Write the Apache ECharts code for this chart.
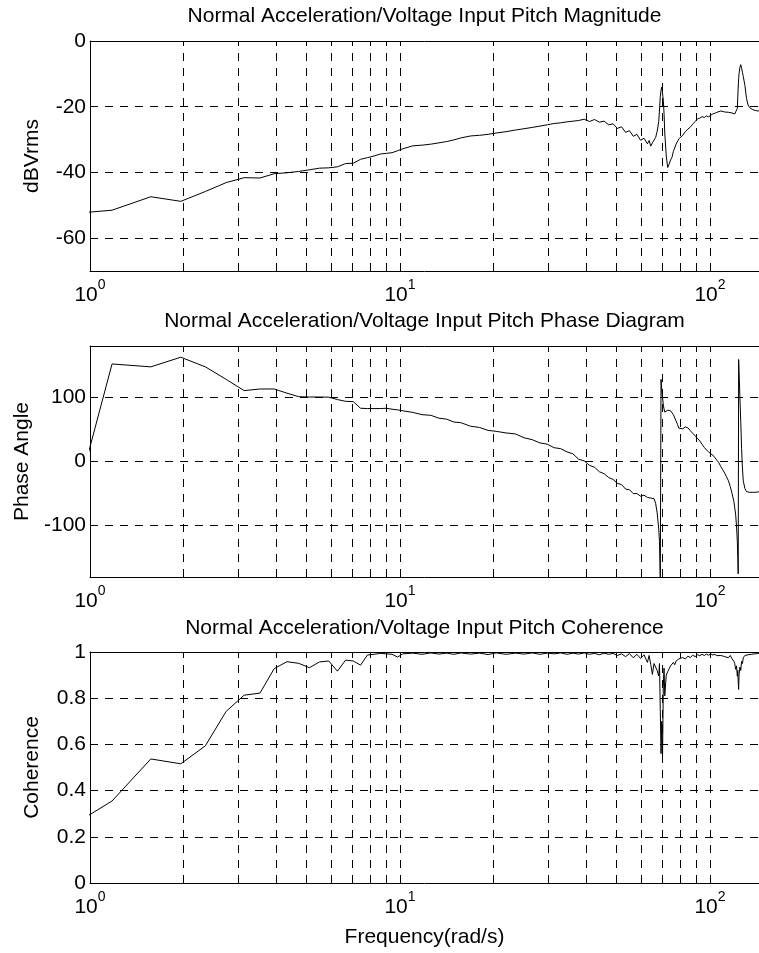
<!DOCTYPE html>
<html><head><meta charset="utf-8">
<script src="https://cdn.jsdelivr.net/npm/echarts@6/dist/echarts.min.js"></script>
<style>html,body{margin:0;padding:0;background:#fff}#c{width:759px;height:953px}</style>
</head><body><div id="c"></div>
<script>
// ---------- data ----------
const freq = [
0.785, 1.178, 1.571, 1.963, 2.356, 2.749, 3.142, 3.534, 3.927, 4.320,
4.712, 5.105, 5.498, 5.890, 6.283, 6.676, 7.069, 7.461, 7.854, 8.247,
8.639, 9.032, 9.425, 9.817, 10.21, 11.00, 11.78, 12.57, 13.35, 14.14,
14.92, 15.71, 16.89, 18.06, 19.24, 20.42, 21.99, 23.56, 25.13, 26.70,
28.27, 29.85, 31.42, 32.99, 34.56, 36.13, 37.70, 39.27, 40.84, 42.41,
43.98, 45.55, 47.12, 48.69, 50.27, 51.84, 53.41, 54.98, 56.55, 58.12,
59.69, 61.26, 62.83, 63.62, 64.40, 65.19, 65.97, 66.76, 67.54, 68.33,
68.72, 69.12, 69.51, 69.90, 70.29, 70.69, 71.08, 71.47, 72.26, 73.04,
73.83, 74.61, 75.40, 76.18, 76.97, 77.75, 78.54, 79.33, 80.11, 81.68,
83.25, 84.82, 86.39, 87.96, 89.54, 91.11, 92.68, 94.25, 95.82, 97.39,
98.96, 100.53, 102.10, 103.67, 105.24, 106.81, 108.38, 109.96, 111.53, 113.10,
114.67, 116.24, 117.81, 119.38, 120.17, 120.95, 121.74, 122.52, 122.91, 123.31,
123.70, 124.09, 124.88, 125.66, 126.45, 127.23, 128.02, 129.59, 131.16, 132.73,
134.30, 135.87, 137.44, 139.02, 140.59, 142.16, 143.73, 145.30
];
const magnitude = [
-52.9, -51.5, -47.4, -48.8, -45.8, -43.1, -41.6, -41.7, -40.4, -40.1,
-39.7, -39.2, -38.7, -38.6, -38.3, -37.3, -37.2, -36.0, -35.5, -35.0,
-34.4, -34.2, -34.0, -33.4, -32.8, -31.9, -31.7, -31.4, -31.0, -30.6,
-30.1, -29.5, -28.9, -28.7, -28.4, -28.0, -27.6, -27.1, -26.7, -26.3,
-25.9, -25.5, -25.1, -24.9, -24.6, -24.4, -24.2, -23.8, -24.5, -23.9,
-24.7, -24.4, -25.5, -25.2, -26.6, -26.1, -27.8, -27.3, -29.0, -28.4,
-30.2, -29.6, -31.3, -30.3, -32.0, -31.0, -30.4, -29.4, -27.5, -24.5,
-21.0, -17.0, -15.0, -14.0, -14.2, -18.0, -22.0, -28.0, -35.0, -38.5,
-37.5, -36.2, -35.4, -33.6, -33.0, -31.4, -31.9, -29.8, -29.6, -28.7,
-27.6, -26.8, -26.2, -25.3, -24.5, -23.7, -23.5, -23.0, -23.3, -22.8,
-23.1, -22.6, -22.2, -22.0, -21.7, -21.9, -21.3, -21.2, -21.6, -21.1,
-21.7, -21.2, -21.9, -21.4, -22.2, -22.6, -22.1, -20.5, -17.0, -14.0,
-11.5, -10.0, -8.0, -7.2, -8.3, -9.5, -10.8, -13.5, -17.5, -19.5,
-20.3, -20.6, -20.9, -21.0, -21.2, -21.0, -21.3, -21.4
];
const phase = [
-168, 152, 147.5, 162.5, 147.5, 128, 110.5, 113, 113, 106.5,
101, 100.5, 100.5, 100.3, 96.5, 93.8, 93.3, 83, 82.5, 82.5,
82.5, 83, 81.5, 80.5, 79, 76.5, 73, 72, 67.5, 66,
61.5, 60.5, 55, 53, 48.5, 47, 44.5, 43, 37, 34,
29, 27, 21.5, 20, 15, 12, 3.5, 1, -6, -9,
-16, -19, -25, -28, -34, -36, -43, -44, -50, -50,
-54, -52.5, -56, -53, -57, -56, -58, -65, -80, -105,
-125, -185, 128, 110, 100, 88, 82, 77, 76, 80,
82, 79, 81, 73, 70, 63, 58, 52, 50, 51,
54, 52.5, 48, 44, 40, 36, 32, 27, 22, 18,
15, 12, 10, 6, 2, -2, -8, -13, -18, -24,
-30, -39, -50, -62, -72, -82, -100, -125, -150, -175,
159, 140, 100, 62, 20, -10, -30, -42, -47, -46,
-48, -46, -48, -46, -48, -45, -47, -46
];
const coherence = [
0.21, 0.355, 0.537, 0.516, 0.594, 0.743, 0.813, 0.822, 0.928, 0.958,
0.951, 0.932, 0.957, 0.961, 0.917, 0.965, 0.961, 0.943, 0.987, 0.990,
0.994, 0.992, 0.990, 0.978, 0.992, 0.995, 0.990, 0.996, 0.991, 0.995,
0.990, 0.996, 0.991, 0.995, 0.989, 0.996, 0.990, 0.995, 0.991, 0.996,
0.990, 0.995, 0.992, 0.996, 0.990, 0.995, 0.991, 0.996, 0.990, 0.994,
0.988, 0.995, 0.990, 0.994, 0.985, 0.992, 0.980, 0.993, 0.975, 0.990,
0.972, 0.988, 0.955, 0.985, 0.946, 0.903, 0.950, 0.954, 0.920, 0.896,
0.950, 0.750, 0.560, 0.700, 0.545, 0.850, 0.930, 0.810, 0.900, 0.915,
0.910, 0.940, 0.935, 0.955, 0.945, 0.961, 0.955, 0.970, 0.965, 0.976,
0.970, 0.982, 0.976, 0.986, 0.980, 0.988, 0.984, 0.990, 0.985, 0.991,
0.986, 0.992, 0.987, 0.990, 0.984, 0.991, 0.985, 0.990, 0.980, 0.988,
0.975, 0.985, 0.970, 0.960, 0.950, 0.925, 0.940, 0.895, 0.920, 0.870,
0.838, 0.900, 0.935, 0.920, 0.960, 0.950, 0.975, 0.985, 0.990, 0.988,
0.993, 0.990, 0.995, 0.992, 0.996, 0.993, 0.996, 0.995
];
const titles = [
  'Normal Acceleration/Voltage Input Pitch Magnitude',
  'Normal Acceleration/Voltage Input Pitch Phase Diagram',
  'Normal Acceleration/Voltage Input Pitch Coherence'
];
const yNames = ['dBVrms', 'Phase Angle', 'Coherence'];
const xName = 'Frequency(rad/s)';
const xTicks = [1, 10, 100];
const xGridLines = [2, 3, 4, 5, 6, 7, 8, 9, 10, 20, 30, 40, 50, 60, 70, 80, 90, 100];
const magTicks = [-60, -40, -20, 0];
const phaseTicks = [-100, 0, 100];
const cohTicks = [0, 0.2, 0.4, 0.6, 0.8, 1];

// ---------- layout / style ----------
const FONT = '"Liberation Sans", Arial, Helvetica, sans-serif';
const X_MIN = 1, X_MAX = 143.9;
const panels = [
  {title: titles[0], yName: yNames[0], values: magnitude, yMin: -70, yMax: 0, ticks: magTicks, top: 41, height: 230, titleTop: 6, nameGap: 47},
  {title: titles[1], yName: yNames[1], values: phase, yMin: -180, yMax: 180, ticks: phaseTicks, top: 346, height: 231, titleTop: 311, nameGap: 56},
  {title: titles[2], yName: yNames[2], values: coherence, yMin: 0, yMax: 1, ticks: cohTicks, top: 652, height: 231, titleTop: 618, nameGap: 47}
];
const black = '#000';
const txt = {fontFamily: FONT, fontSize: 21, color: black, fontWeight: 'normal'};

const option = {
  animation: false,
  backgroundColor: '#fff',
  title: panels.map(p => ({
    text: p.title, left: 424.5, top: p.titleTop, textAlign: 'center', padding: 0,
    textStyle: Object.assign({}, txt)
  })),
  grid: panels.map(p => ({left: 90, right: 0, top: p.top, height: p.height, containLabel: false})),
  xAxis: [],
  yAxis: [],
  series: []
};

panels.forEach((p, i) => {
  option.xAxis.push({
    gridIndex: i, type: 'log', logBase: 10, min: X_MIN, max: X_MAX, position: 'bottom',
    axisLine: {show: true, onZero: false, lineStyle: {color: black, width: 1}},
    axisTick: {show: false}, splitLine: {show: false}, minorTick: {show: false}, minorSplitLine: {show: false},
    axisLabel: {
      show: true, customValues: xTicks, margin: 7,
      formatter: v => {
        const e = Math.log10(v);
        if (Math.abs(e - Math.round(e)) > 1e-6) return '';
        return '{b|10}{s|' + Math.round(e) + '}';
      },
      rich: {
        b: {fontFamily: FONT, fontSize: 21, lineHeight: 35, color: black},
        s: {fontFamily: FONT, fontSize: 14, lineHeight: 14, verticalAlign: 'top', color: black}
      }
    },
    name: i === 2 ? xName : '', nameLocation: 'middle', nameGap: 43.5,
    nameTextStyle: Object.assign({}, txt)
  });
  option.xAxis.push({
    gridIndex: i, type: 'log', logBase: 10, min: X_MIN, max: X_MAX, position: 'top',
    axisLine: {show: true, onZero: false, lineStyle: {color: black, width: 1}},
    axisTick: {show: false}, splitLine: {show: false}, axisLabel: {show: false}
  });
  option.yAxis.push({
    gridIndex: i, type: 'value', min: p.yMin, max: p.yMax,
    axisLine: {show: true, onZero: false, lineStyle: {color: black, width: 1}},
    axisTick: {show: false}, splitLine: {show: false},
    axisLabel: Object.assign({customValues: p.ticks, margin: 4}, txt),
    name: p.yName, nameLocation: 'middle', nameGap: p.nameGap,
    nameTextStyle: Object.assign({}, txt)
  });
  const hLines = p.ticks.filter(t => t > p.yMin && t < p.yMax);
  const pts = freq.map((f, j) => [f, p.values[j]]);
  option.series.push({
    type: 'line', xAxisIndex: 2 * i, yAxisIndex: i, data: pts, z: 1, silent: true,
    symbol: 'none', showSymbol: false, lineStyle: {opacity: 0}, clip: true,
    markLine: {
      silent: true, z: 1, symbol: ['none', 'none'], animation: false,
      label: {show: false}, emphasis: {disabled: true},
      lineStyle: {color: black, width: 1, type: [8, 7]},
      data: xGridLines.map(v => ({xAxis: v})).concat(hLines.map(v => ({yAxis: v})))
    }
  });
  option.series.push({
    type: 'line', xAxisIndex: 2 * i, yAxisIndex: i, data: pts, z: 3, silent: true,
    symbol: 'none', showSymbol: false, clip: true,
    lineStyle: {color: black, width: 1}
  });
});

const chart = echarts.init(document.getElementById('c'), null, {renderer: 'canvas'});
chart.setOption(option);
</script>
</body></html>
